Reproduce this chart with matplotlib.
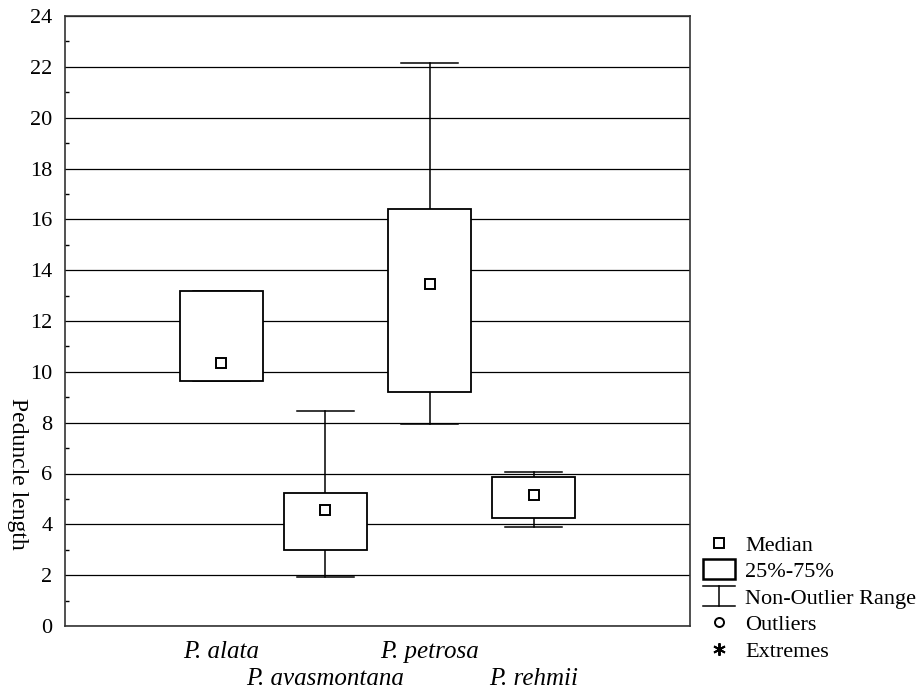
import matplotlib
matplotlib.use("Agg")
import matplotlib.pyplot as plt
from matplotlib.patches import Rectangle
from matplotlib.lines import Line2D
from matplotlib.legend_handler import HandlerBase

# Peduncle length summary per species
species = ["P. alata", "P. avasmontana", "P. petrosa", "P. rehmii"]
medians = [10.35, 4.55, 13.45, 5.15]
q25 = [9.62, 2.99, 9.20, 4.26]
q75 = [13.18, 5.24, 16.40, 5.85]
whisk_lo = [9.62, 1.94, 7.93, 3.91]
whisk_hi = [13.18, 8.46, 22.17, 6.05]

yticks = list(range(0, 25, 2))
minor_yticks = list(range(1, 24, 2))

plt.rcParams["font.family"] = ["Liberation Serif", "DejaVu Serif"]
plt.rcParams["font.size"] = 16

fig = plt.figure(figsize=(9.18, 6.91), dpi=100)
ax = fig.add_axes([65 / 918, 1 - 626 / 691, 625 / 918, 610 / 691])

box_w = 0.8
cap_w = 0.55
positions = list(range(len(species)))

for x, med, lo, hi, wlo, whi in zip(positions, medians, q25, q75, whisk_lo, whisk_hi):
    # whiskers and caps
    ax.plot([x, x], [hi, whi], color="black", lw=1.1, zorder=3)
    ax.plot([x, x], [wlo, lo], color="black", lw=1.1, zorder=3)
    ax.plot([x - cap_w / 2, x + cap_w / 2], [whi, whi], color="black", lw=1.1, zorder=3)
    ax.plot([x - cap_w / 2, x + cap_w / 2], [wlo, wlo], color="black", lw=1.1, zorder=3)
    # interquartile box
    ax.add_patch(Rectangle((x - box_w / 2, lo), box_w, hi - lo, facecolor="white",
                           edgecolor="black", lw=1.3, zorder=4))
    # median marker
    ax.plot([x], [med], marker="s", ms=7.5, mfc="white", mec="black", mew=1.4, zorder=5)

ax.set_xlim(-1.5, 4.5)
ax.set_ylim(0, 24)

# y axis: labelled even ticks with grid, short inner marks at odd values
ax.set_yticks(yticks)
ax.set_yticks(minor_yticks, minor=True)
ax.yaxis.grid(True, which="major", color="black", lw=0.9)
ax.set_axisbelow(True)
ax.tick_params(axis="y", which="major", length=0, pad=9, labelsize=16)
ax.tick_params(axis="y", which="minor", direction="in", length=3, width=1)

# x axis: species names staggered over two rows
ax.set_xticks(positions[0::2])
ax.set_xticklabels(species[0::2])
ax.set_xticks(positions[1::2], minor=True)
ax.set_xticklabels(species[1::2], minor=True)
for lab in ax.get_xticklabels(which="both"):
    lab.set_fontstyle("italic")
    lab.set_fontsize(18)
ax.tick_params(axis="x", which="major", length=0, pad=11)
ax.tick_params(axis="x", which="minor", length=0, pad=30)

for sp in ax.spines.values():
    sp.set_color("#333333")
    sp.set_linewidth(1.2)

ax.set_ylabel("Peduncle length", rotation=-90, fontsize=17)
ax.yaxis.set_label_coords(-58 / 625, 0.25)


class WhiskerHandler(HandlerBase):
    def create_artists(self, legend, orig_handle, xdescent, ydescent, width, height, fontsize, trans):
        cx = width / 2 - xdescent
        top = height * 1.15
        bot = -height * 0.15
        l1 = Line2D([-xdescent, width - xdescent], [top, top], color="black", lw=1.1, transform=trans)
        l2 = Line2D([-xdescent, width - xdescent], [bot, bot], color="black", lw=1.1, transform=trans)
        l3 = Line2D([cx, cx], [bot, top], color="black", lw=1.1, transform=trans)
        return [l1, l2, l3]


class BoxHandler(HandlerBase):
    def create_artists(self, legend, orig_handle, xdescent, ydescent, width, height, fontsize, trans):
        r = Rectangle((-xdescent, -height * 0.15), width, height * 1.3, facecolor="white",
                      edgecolor="black", lw=1.8, transform=trans)
        return [r]


class WhiskerKey:
    pass


class BoxKey:
    pass


handles = [
    Line2D([], [], ls="none", marker="s", ms=7.5, mfc="white", mec="black", mew=1.4),
    BoxKey(),
    WhiskerKey(),
    Line2D([], [], ls="none", marker="o", ms=6.5, mfc="white", mec="black", mew=1.4),
    Line2D([], [], ls="none", marker=(6, 2, 0), ms=9, mec="black", mew=1.4),
]
labels = ["Median", "25%-75%", "Non-Outlier Range", "Outliers", "Extremes"]
fig.legend(handles, labels, loc="upper left", bbox_to_anchor=(703 / 918, 1 - 535 / 691),
           frameon=False, handler_map={WhiskerKey: WhiskerHandler(), BoxKey: BoxHandler()},
           handlelength=1.45, handletextpad=0.45, labelspacing=0.27, fontsize=16,
           borderaxespad=0, borderpad=0)

fig.savefig("out.png", dpi=100)
